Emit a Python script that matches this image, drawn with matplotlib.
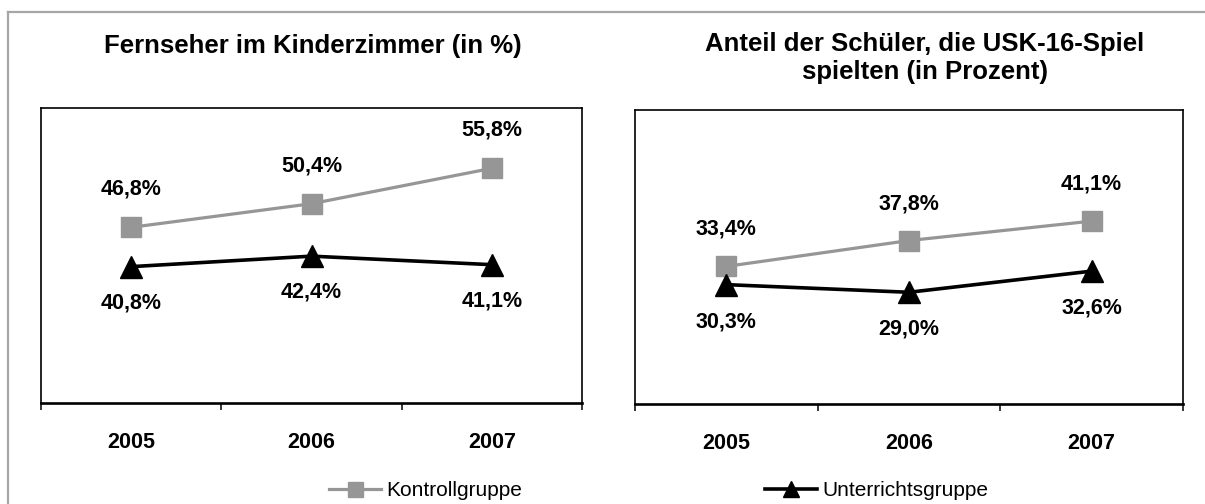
import matplotlib
matplotlib.use('Agg')
import matplotlib.pyplot as plt
from matplotlib.lines import Line2D

plt.rcParams['font.family'] = ['Liberation Sans', 'DejaVu Sans']

years = ['2005', '2006', '2007']
tv_kontroll = [46.8, 50.4, 55.8]
tv_unterricht = [40.8, 42.4, 41.1]
usk_kontroll = [33.4, 37.8, 41.1]
usk_unterricht = [30.3, 29.0, 32.6]

title_tv = 'Fernseher im Kinderzimmer (in %)'
title_usk = 'Anteil der Schüler, die USK-16-Spiel\nspielten (in Prozent)'

gray = '#969696'
W, H = 1205, 504
fig = plt.figure(figsize=(W / 100, H / 100), dpi=100)


def px_axes(x0, y0, x1, y1):
    return fig.add_axes([x0 / W, 1 - y1 / H, (x1 - x0) / W, (y1 - y0) / H])


def fmt(v):
    return f'{v:.1f}%'.replace('.', ',')


def panel(ax, kontroll, unterricht, ylim, up, down):
    x = range(len(years))
    ax.plot(x, kontroll, color=gray, lw=2.3, marker='s', ms=15,
            label='Kontrollgruppe')
    ax.plot(x, unterricht, color='black', lw=2.6, marker='^', ms=15.5,
            label='Unterrichtsgruppe')
    for i, v in enumerate(kontroll):
        ax.annotate(fmt(v), (i, v), xytext=(0, up), textcoords='offset pixels',
                    ha='center', va='center', fontsize=15.5, fontweight='bold')
    for i, v in enumerate(unterricht):
        ax.annotate(fmt(v), (i, v), xytext=(0, -down), textcoords='offset pixels',
                    ha='center', va='center', fontsize=15.5, fontweight='bold')
    ax.set_xlim(-0.5, 2.5)
    ax.set_ylim(*ylim)
    ax.set_yticks([])
    ax.set_xticks([-0.5, 0.5, 1.5, 2.5])
    ax.set_xticklabels([])
    ax.set_xticks(list(x), minor=True)
    ax.set_xticklabels(years, minor=True, fontsize=15.5, fontweight='bold')
    ax.tick_params(axis='x', which='major', direction='out', length=5, width=1.1)
    ax.tick_params(axis='x', which='minor', length=0, pad=21)
    for s in ['left', 'right', 'top']:
        ax.spines[s].set_linewidth(1.2)
    ax.spines['bottom'].set_linewidth(1.9)


ax1 = px_axes(41, 108, 582, 403)
panel(ax1, tv_kontroll, tv_unterricht, (20, 65), 38, 36)

ax2 = px_axes(635, 110, 1183, 404)
panel(ax2, usk_kontroll, usk_unterricht, (10, 60), 37, 37)

fig.text(313 / W, 1 - 46 / H, title_tv, ha='center', va='center',
         fontsize=18.5, fontweight='bold')
fig.text(925 / W, 1 - 58 / H, title_usk, ha='center', va='center',
         fontsize=18.5, fontweight='bold', linespacing=1.2)

# outer frame (only top and left edges are inside the picture)
fig.add_artist(Line2D([8 / W, 8 / W], [0, 1 - 12 / H], color='#a6a6a6', lw=1.6,
                      transform=fig.transFigure))
fig.add_artist(Line2D([8 / W, 1], [1 - 12 / H, 1 - 12 / H], color='#a6a6a6', lw=1.6,
                      transform=fig.transFigure))

h = ax1.get_lines()
fig.legend(handles=[h[0]], loc='center left', bbox_to_anchor=(310 / W, 1 - 491 / H),
           frameon=False, fontsize=15, handlelength=2.5, handletextpad=0.25,
           markerscale=0.72)
fig.legend(handles=[h[1]], loc='center left', bbox_to_anchor=(746 / W, 1 - 491 / H),
           frameon=False, fontsize=15, handlelength=2.5, handletextpad=0.25,
           markerscale=0.72)

fig.savefig('out.png', dpi=100)
